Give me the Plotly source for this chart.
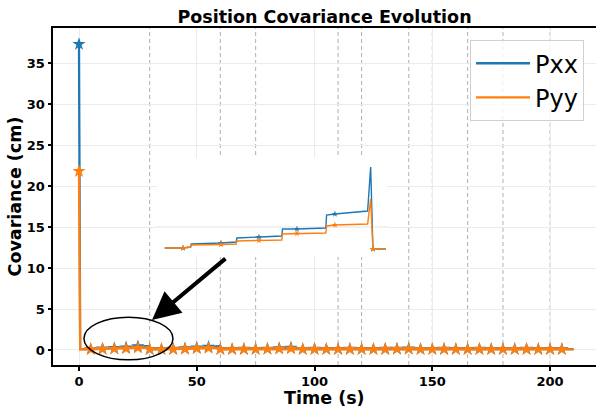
import plotly.graph_objects as go

# ---------------- data ----------------
t_main = [0, 0.5, 5, 10, 15, 20, 25, 29.5, 30, 35, 40, 45, 50, 55, 59.5, 60,
          65, 70, 75, 80, 85, 90, 95, 100, 105, 110, 115, 120, 125, 130, 135, 140,
          145, 150, 155, 160, 165, 170, 175, 180, 185, 190, 195, 200, 205, 210]
pxx_main = [37.3, 0.10, 0.10, 0.15, 0.21, 0.29, 0.44, 0.47, 0.09,
            0.10, 0.12, 0.18, 0.30, 0.38, 0.45, 0.10,
            0.10, 0.12, 0.10, 0.14, 0.20, 0.26, 0.10, 0.12,
            0.10, 0.10, 0.12, 0.10, 0.10, 0.12, 0.14, 0.16,
            0.10, 0.10, 0.12, 0.10, 0.10, 0.12, 0.10, 0.10,
            0.11, 0.12, 0.10, 0.10, 0.10, 0.10]
pyy_main = [21.8, 0.08, 0.09, 0.11, 0.14, 0.17, 0.25, 0.30, 0.08,
            0.08, 0.09, 0.12, 0.18, 0.22, 0.26, 0.08,
            0.08, 0.09, 0.08, 0.10, 0.13, 0.16, 0.08, 0.09,
            0.08, 0.08, 0.09, 0.08, 0.08, 0.09, 0.10, 0.11,
            0.08, 0.08, 0.09, 0.08, 0.08, 0.09, 0.08, 0.08,
            0.08, 0.09, 0.08, 0.08, 0.08, 0.08]

# zoomed inset (first 30 s)
t_inset = [2.6, 5, 6.0, 6.1, 10, 12.0, 12.1, 15, 18.0, 18.1, 20, 23.8, 23.9, 25,
           29.3, 29.7, 30, 31.7]
pxx_inset = [0.10, 0.10, 0.11, 0.14, 0.15, 0.16, 0.20, 0.21, 0.22, 0.29, 0.29,
             0.30, 0.43, 0.44, 0.47, 0.91, 0.09, 0.09]
pyy_inset = [0.10, 0.10, 0.11, 0.13, 0.135, 0.14, 0.17, 0.175, 0.18, 0.24, 0.245,
             0.25, 0.32, 0.33, 0.34, 0.59, 0.09, 0.09]

event_times = [30, 60, 75, 100, 110, 120, 140, 150, 165, 180, 200]
x_ticks = [0, 50, 100, 150, 200]
y_ticks = [0, 5, 10, 15, 20, 25, 30, 35]

X_RANGE = [-11.04, 219.5]
Y_RANGE = [-1.83, 39.27]
XI_RANGE = [1.58, 31.85]
YI_RANGE = [0.01, 1.0]

BLUE = '#1f77b4'
ORANGE = '#ff7f0e'
FONT = 'DejaVu Sans'

fig = go.Figure()

mk_main = [i for i, t in enumerate(t_main) if t % 5 == 0 and t <= 205]
mk_inset = [i for i, t in enumerate(t_inset) if t % 5 == 0]

for name, ys, col in [('Pxx', pxx_main, BLUE), ('Pyy', pyy_main, ORANGE)]:
    fig.add_trace(go.Scatter(x=t_main, y=ys, mode='lines', name=name,
                             line=dict(color=col, width=2.3)))
    fig.add_trace(go.Scatter(x=[t_main[i] for i in mk_main], y=[ys[i] for i in mk_main],
                             mode='markers', showlegend=False,
                             marker=dict(symbol='star', size=10, color=col, line=dict(width=0))))

for name, ys, col in [('Pxx', pxx_inset, BLUE), ('Pyy', pyy_inset, ORANGE)]:
    fig.add_trace(go.Scatter(x=t_inset, y=ys, mode='lines', showlegend=False,
                             xaxis='x2', yaxis='y2', line=dict(color=col, width=1.4)))
    fig.add_trace(go.Scatter(x=[t_inset[i] for i in mk_inset], y=[ys[i] for i in mk_inset],
                             mode='markers', showlegend=False, xaxis='x2', yaxis='y2',
                             marker=dict(symbol='star', size=5, color=col, line=dict(width=0))))

shapes = []
for t in event_times:
    shapes.append(dict(type='line', xref='x', yref='y', x0=t, x1=t, y0=Y_RANGE[0], y1=Y_RANGE[1],
                       line=dict(color='#b0b0b0', width=1, dash='4px,3px'), layer='below'))
# white backing of the inset
shapes.append(dict(type='rect', xref='x2', yref='y2', x0=XI_RANGE[0], x1=XI_RANGE[1],
                   y0=YI_RANGE[0], y1=YI_RANGE[1],
                   fillcolor='white', line=dict(width=0), layer='below'))
shapes.append(dict(type='line', xref='x2', yref='y2', x0=XI_RANGE[0], x1=XI_RANGE[1],
                   y0=0.31, y1=0.31, line=dict(color='#e3e3e3', width=1), layer='below'))
# ellipse highlighting the zoomed region
shapes.append(dict(type='circle', xref='x', yref='y', x0=2.1, x1=39.9, y0=-1.2, y1=4.0,
                   line=dict(color='black', width=1.5), layer='above'))

axis_common = dict(ticks='outside', ticklen=3.5, tickwidth=1.5, tickcolor='black',
                   showline=True, linewidth=2, linecolor='black',
                   showgrid=True, gridcolor='#ebebeb', gridwidth=1, zeroline=False,
                   tickfont=dict(family=FONT, size=13, color='black', weight='bold'))

fig.update_layout(
    width=596, height=407,
    margin=dict(l=53, r=0, t=28, b=42),
    plot_bgcolor='white', paper_bgcolor='white',
    title=dict(text='Position Covariance Evolution', x=0.5, xref='paper', xanchor='center',
               y=1 - 17 / 407, yref='container', yanchor='middle',
               font=dict(family=FONT, size=17.5, color='black', weight='bold')),
    xaxis=dict(range=X_RANGE, tickvals=x_ticks, mirror=True, **axis_common),
    yaxis=dict(range=Y_RANGE, tickvals=y_ticks,
               title=dict(text='Covariance (cm)', standoff=1,
                          font=dict(family=FONT, size=17.5, color='black', weight='bold')),
               **axis_common),
    xaxis2=dict(domain=[0.1915, 0.6151], anchor='y2', range=XI_RANGE,
                showgrid=False, showticklabels=False, showline=False, ticks='', zeroline=False),
    yaxis2=dict(domain=[0.3205, 0.6142], anchor='x2', range=YI_RANGE,
                showgrid=False, showticklabels=False, showline=False, ticks='', zeroline=False),
    legend=dict(x=0.978, xanchor='right', y=0.964, yanchor='top',
                bgcolor='rgba(255,255,255,0.8)', bordercolor='#d0d0d0', borderwidth=1,
                itemwidth=54,
                font=dict(family=FONT, size=24, color='black')),
    shapes=shapes,
    annotations=[
        dict(x=31.0, y=3.66, ax=62.8, ay=11.3, xref='x', yref='y',
             axref='x', ayref='y', text='', showarrow=True,
             arrowhead=2, arrowwidth=4, arrowsize=1.4, arrowcolor='black'),
        dict(text='Time (s)', x=0.5, y=(365 - 398) / 337, xref='paper', yref='paper',
             xanchor='center', yanchor='middle', showarrow=False,
             font=dict(family=FONT, size=17.5, color='black', weight='bold')),
    ],
)

fig.write_html('out.html')
